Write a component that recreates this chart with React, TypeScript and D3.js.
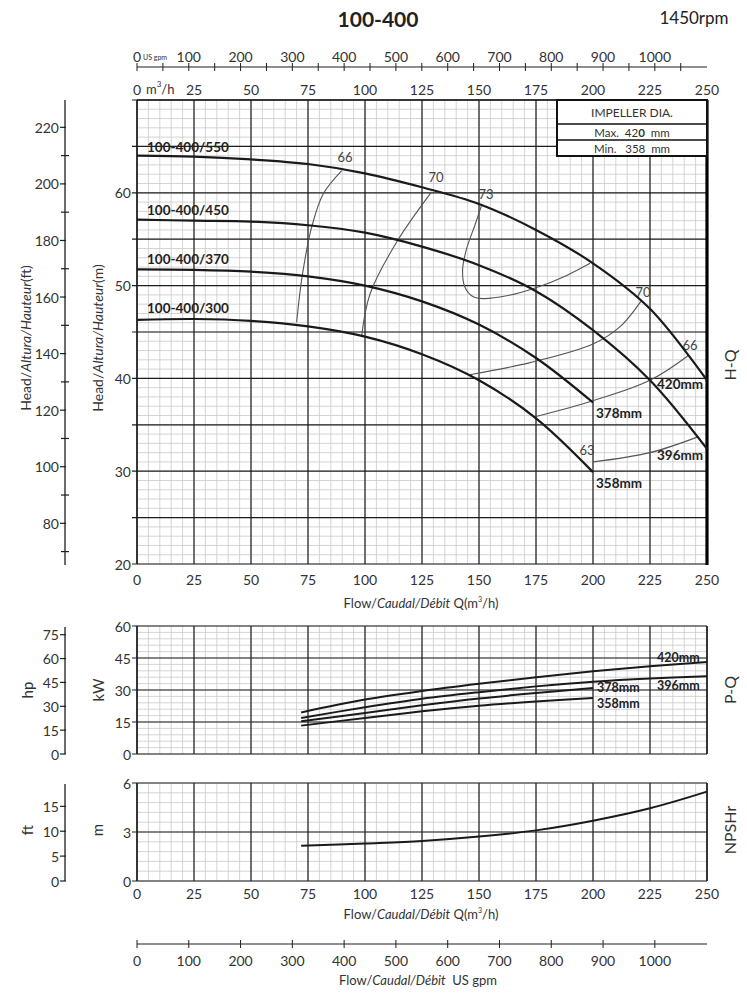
import React from 'react';
import * as d3 from 'd3';

// ---- data ----
const flowTicks = [0, 25, 50, 75, 100, 125, 150, 175, 200, 225, 250];
const gpmLabels = [0, 100, 200, 300, 400, 500, 600, 700, 800, 900, 1000];
const gpmMinor = [50, 150, 250, 350, 450, 550, 650, 750, 850, 950, 1050];
const headMLabels = [20, 30, 40, 50, 60];
const headFtLabels = [80, 100, 120, 140, 160, 180, 200, 220];
const headFtMinor = [70, 90, 110, 130, 150, 170, 190, 210];
const kwLabels = [0, 15, 30, 45, 60];
const hpLabels = [0, 15, 30, 45, 60, 75];
const npshMLabels = [0, 3, 6];
const npshFtLabels = [0, 5, 10, 15];

// H-Q (head in m)
const flowLong = [0, 25, 50, 75, 100, 125, 150, 175, 200, 225, 250];
const flowShort = [0, 25, 50, 75, 100, 125, 150, 175, 200];
const head420 = [64.0, 63.9, 63.6, 63.1, 62.1, 60.6, 58.8, 56.0, 52.4, 47.5, 39.8];
const head396 = [57.1, 57.0, 56.9, 56.5, 55.7, 54.2, 52.2, 49.4, 45.2, 39.8, 32.4];
const head378 = [51.75, 51.7, 51.5, 51.0, 50.0, 48.3, 45.8, 42.2, 37.4];
const head358 = [46.3, 46.4, 46.2, 45.6, 44.5, 42.6, 39.8, 35.7, 29.9];

// iso-efficiency lines [Q, H]
const eff66a: [number, number][] = [[70.0, 46.05], [72.5, 51.1], [76.6, 56.3], [81.7, 59.9], [89.8, 62.4]];
const eff70a: [number, number][] = [[98.5, 44.5], [102.2, 49.1], [113.9, 54.7], [129.2, 60.1]];
const eff73: [number, number][] = [
  [151.2, 58.7], [148.2, 56.5], [144.6, 54.0], [142.8, 51.7], [143.9, 49.8], [147.5, 48.8],
  [151.9, 48.6], [162.1, 48.9], [175.3, 49.8], [188.5, 51.1], [198.7, 52.4],
];
const eff70b: [number, number][] = [[146, 40.4], [172.4, 41.7], [200, 43.7], [212, 45.6], [221, 48.3]];
const eff66b: [number, number][] = [[175, 35.9], [200, 37.6], [225, 39.8], [242, 42.5]];
const eff63: [number, number][] = [[200, 31.0], [225, 32.0], [246, 33.7]];

// P-Q (kW)
const flowP = [72, 100, 125, 150, 175, 200, 225, 250];
const flowPShort = [72, 100, 125, 150, 175, 200];
const power420 = [19.5, 25.5, 29.5, 32.9, 36.0, 38.8, 41.1, 43.1];
const power396 = [16.9, 21.9, 25.9, 29.0, 31.7, 33.9, 35.4, 36.4];
const power378 = [15.3, 19.2, 22.8, 26.0, 28.6, 30.9];
const power358 = [13.3, 16.9, 20.0, 22.6, 24.6, 26.3];

// NPSHr (m)
const flowN = [72, 100, 125, 150, 175, 200, 225, 250];
const npsh = [2.16, 2.3, 2.45, 2.72, 3.1, 3.69, 4.45, 5.47];

const FONT = "Lato, 'Open Sans', sans-serif";
const TXT = '#333';
const MINOR = '#c9c9c9';
const MAJOR = '#1e1e1e';

const xQ = d3.scaleLinear().domain([0, 250]).range([137, 707]);
const xGpm = d3.scaleLinear().domain([0, 250 * 4.4029]).range([137, 707]);
const yHead = d3.scaleLinear().domain([20, 70]).range([564, 100]);
const yHeadFt = d3.scaleLinear().domain([20 * 3.28084, 70 * 3.28084]).range([564, 100]);
const yPow = d3.scaleLinear().domain([0, 60]).range([754, 626]);
const yHp = d3.scaleLinear().domain([0, 60 * 1.341]).range([754, 626]);
const yNpsh = d3.scaleLinear().domain([0, 6]).range([881, 783]);
const yNpshFt = d3.scaleLinear().domain([0, 6 * 3.28084]).range([881, 783]);

const zip = (xs: number[], ys: number[]) => xs.map((q, i) => [q, ys[i]] as [number, number]);

function Grid({ y, minorY, majorY }: { y: d3.ScaleLinear<number, number>; minorY: number[]; majorY: number[] }) {
  const [y0, y1] = y.range();
  const minorX = d3.range(0, 251, 5);
  return (
    <g>
      {minorX.map(v => (
        <line key={'mx' + v} x1={xQ(v)} x2={xQ(v)} y1={y0} y2={y1} stroke={MINOR} strokeWidth={0.8} />
      ))}
      {minorY.map(v => (
        <line key={'my' + v} x1={137} x2={707} y1={y(v)} y2={y(v)} stroke={MINOR} strokeWidth={0.8} />
      ))}
      {flowTicks.map(v => (
        <line key={'Mx' + v} x1={xQ(v)} x2={xQ(v)} y1={y0} y2={y1} stroke={MAJOR} strokeWidth={1.2} />
      ))}
      {majorY.map(v => (
        <line key={'My' + v} x1={132} x2={707} y1={y(v)} y2={y(v)} stroke={MAJOR} strokeWidth={1.2} />
      ))}
    </g>
  );
}

function FlowLabels({ yPos }: { yPos: number }) {
  return (
    <g fontSize={14} fill={TXT} textAnchor="middle" dominantBaseline="central">
      {flowTicks.map(v => (
        <text key={v} x={xQ(v)} y={yPos}>{v}</text>
      ))}
    </g>
  );
}

function FlowTitle({ yPos }: { yPos: number }) {
  return (
    <text x={421} y={yPos} fontSize={13} fill={TXT} textAnchor="middle" dominantBaseline="central">
      Flow/<tspan fontStyle="italic">Caudal/Débit</tspan> Q(m<tspan fontSize={7} dy={-4}>3</tspan><tspan dy={4}>/h)</tspan>
    </text>
  );
}

export default function App() {
  const smooth = d3.curveCatmullRom.alpha(0.5);
  const lineH = d3.line<[number, number]>().x(d => xQ(d[0])).y(d => yHead(d[1])).curve(smooth);
  const lineP = d3.line<[number, number]>().x(d => xQ(d[0])).y(d => yPow(d[1])).curve(smooth);
  const lineN = d3.line<[number, number]>().x(d => xQ(d[0])).y(d => yNpsh(d[1])).curve(smooth);

  const hqCurves = [zip(flowLong, head420), zip(flowLong, head396), zip(flowShort, head378), zip(flowShort, head358)];
  const effCurves = [eff66a, eff70a, eff73, eff70b, eff66b, eff63];
  const pCurves = [zip(flowP, power420), zip(flowP, power396), zip(flowPShort, power378), zip(flowPShort, power358)];

  return (
    <svg width={747} height={1000} style={{ position: 'absolute', left: 0, top: 0, background: '#fff' }} fontFamily={FONT}>
      <rect width={747} height={1000} fill="#fff" />

      {/* titles */}
      <text x={378} y={18} fontSize={21} fontWeight="bold" fill="#222" textAnchor="middle" dominantBaseline="central">100-400</text>
      <text x={694} y={17} fontSize={17} fill="#222" textAnchor="middle" dominantBaseline="central">1450rpm</text>

      {/* top US gpm axis */}
      <line x1={137} x2={707} y1={67} y2={67} stroke={MAJOR} strokeWidth={1.2} />
      {[...gpmLabels, ...gpmMinor].map(v => (
        <line key={'tg' + v} x1={xGpm(v)} x2={xGpm(v)} y1={63} y2={71} stroke={MAJOR} strokeWidth={1} />
      ))}
      <g fontSize={14} fill={TXT} textAnchor="middle" dominantBaseline="central">
        {gpmLabels.map(v => (
          <text key={'gl' + v} x={xGpm(v)} y={56}>{v}</text>
        ))}
      </g>
      <text x={143} y={57} fontSize={7} fill={TXT} dominantBaseline="central">US gpm</text>

      {/* top m3/h labels */}
      <g fontSize={14} fill={TXT} textAnchor="middle" dominantBaseline="central">
        {flowTicks.map(v => (
          <text key={'tm' + v} x={xQ(v)} y={89}>{v}</text>
        ))}
      </g>
      <text x={146} y={89} fontSize={13} fill={TXT} dominantBaseline="central">
        m<tspan fontSize={8} dy={-5}>3</tspan><tspan dy={5}>/h</tspan>
      </text>

      {/* ===== H-Q panel ===== */}
      <Grid y={yHead} minorY={d3.range(20, 71, 1)} majorY={d3.range(20, 71, 5)} />
      <line x1={137} x2={707} y1={100} y2={100} stroke={MAJOR} strokeWidth={1.4} />
      <line x1={137} x2={137} y1={100} y2={564} stroke={MAJOR} strokeWidth={1.4} />
      <line x1={707} x2={707} y1={100} y2={565} stroke="#000" strokeWidth={3.2} />

      <g fontSize={14} fill={TXT} textAnchor="end" dominantBaseline="central">
        {headMLabels.map(v => (
          <text key={'hm' + v} x={131} y={yHead(v)}>{v}</text>
        ))}
      </g>
      <FlowLabels yPos={579} />
      <FlowTitle yPos={603} />

      {/* ft axis */}
      <line x1={65} x2={65} y1={100} y2={565} stroke={MAJOR} strokeWidth={1.3} />
      {headFtLabels.map(v => (
        <line key={'ft' + v} x1={60} x2={66} y1={yHeadFt(v)} y2={yHeadFt(v)} stroke={MAJOR} strokeWidth={1.2} />
      ))}
      {headFtMinor.map(v => (
        <line key={'ftm' + v} x1={61} x2={69} y1={yHeadFt(v)} y2={yHeadFt(v)} stroke={MAJOR} strokeWidth={1.2} />
      ))}
      <g fontSize={14} fill={TXT} textAnchor="end" dominantBaseline="central">
        {headFtLabels.map(v => (
          <text key={'ftl' + v} x={59} y={yHeadFt(v)}>{v}</text>
        ))}
      </g>
      <text transform="translate(25,338) rotate(-90)" fontSize={14} fill={TXT} textAnchor="middle" dominantBaseline="central">
        Head/<tspan fontStyle="italic">Altura/Hauteur</tspan>(ft)
      </text>
      <text transform="translate(97,338) rotate(-90)" fontSize={14} fill={TXT} textAnchor="middle" dominantBaseline="central">
        Head/<tspan fontStyle="italic">Altura/Hauteur</tspan>(m)
      </text>

      {/* efficiency lines */}
      {effCurves.map((c, i) => (
        <path key={'e' + i} d={lineH(c) ?? ''} fill="none" stroke="#555" strokeWidth={1.1} />
      ))}
      <g fontSize={13} fill="#444" textAnchor="middle" dominantBaseline="central">
        <text x={345} y={157}>66</text>
        <text x={436} y={177}>70</text>
        <text x={486} y={194}>73</text>
        <text x={643} y={292}>70</text>
        <text x={690} y={345}>66</text>
        <text x={587} y={450}>63</text>
      </g>

      {/* H-Q curves */}
      {hqCurves.map((c, i) => (
        <path key={'h' + i} d={lineH(c) ?? ''} fill="none" stroke="#1a1a1a" strokeWidth={2.2} />
      ))}
      <g fontSize={13.5} fontWeight="bold" fill="#222" dominantBaseline="central">
        <text x={147} y={147}>100-400/550</text>
        <text x={147} y={210}>100-400/450</text>
        <text x={147} y={259}>100-400/370</text>
        <text x={147} y={308}>100-400/300</text>
        <text x={657} y={384}>420mm</text>
        <text x={596} y={413}>378mm</text>
        <text x={657} y={455}>396mm</text>
        <text x={596} y={483}>358mm</text>
      </g>

      {/* impeller box */}
      <rect x={557} y={100} width={150} height={56} fill="#fff" stroke="#111" strokeWidth={2} />
      <line x1={557} x2={707} y1={124} y2={124} stroke="#111" strokeWidth={1.5} />
      <line x1={557} x2={707} y1={140} y2={140} stroke="#111" strokeWidth={1.5} />
      <g fontSize={12} fill="#333" textAnchor="middle" dominantBaseline="central">
        <text x={632} y={112}>IMPELLER DIA.</text>
        <text x={632} y={132} fontSize={11.5} style={{ whiteSpace: 'pre' }}>Max.  42<tspan fontWeight="bold">0</tspan>  mm</text>
        <text x={632} y={148} fontSize={11.5} style={{ whiteSpace: 'pre' }}>Min.   358  mm</text>
      </g>
      <text transform="translate(729,365) rotate(-90)" fontSize={16} fill={TXT} textAnchor="middle" dominantBaseline="central">H-Q</text>

      {/* ===== P-Q panel ===== */}
      <Grid y={yPow} minorY={d3.range(0, 61, 3)} majorY={kwLabels} />
      <line x1={137} x2={137} y1={626} y2={754} stroke={MAJOR} strokeWidth={1.4} />
      <line x1={707} x2={707} y1={626} y2={754} stroke={MAJOR} strokeWidth={1.4} />
      <g fontSize={14} fill={TXT} textAnchor="end" dominantBaseline="central">
        {kwLabels.map(v => (
          <text key={'kw' + v} x={131} y={yPow(v)}>{v}</text>
        ))}
      </g>
      <line x1={65} x2={65} y1={627} y2={754} stroke={MAJOR} strokeWidth={1.3} />
      {hpLabels.map(v => (
        <line key={'hpt' + v} x1={60} x2={66} y1={yHp(v)} y2={yHp(v)} stroke={MAJOR} strokeWidth={1.2} />
      ))}
      <g fontSize={14} fill={TXT} textAnchor="end" dominantBaseline="central">
        {hpLabels.map(v => (
          <text key={'hp' + v} x={59} y={yHp(v)}>{v}</text>
        ))}
      </g>
      <text transform="translate(27,690) rotate(-90)" fontSize={15} fill={TXT} textAnchor="middle" dominantBaseline="central">hp</text>
      <text transform="translate(98,690) rotate(-90)" fontSize={15} fill={TXT} textAnchor="middle" dominantBaseline="central">kW</text>
      {pCurves.map((c, i) => (
        <path key={'p' + i} d={lineP(c) ?? ''} fill="none" stroke="#1a1a1a" strokeWidth={2} />
      ))}
      <g fontSize={12.5} fontWeight="bold" fill="#222" dominantBaseline="central">
        <text x={657} y={657}>420mm</text>
        <text x={657} y={685}>396mm</text>
        <text x={597} y={687}>378mm</text>
        <text x={597} y={703}>358mm</text>
      </g>
      <text transform="translate(729,690) rotate(-90)" fontSize={16} fill={TXT} textAnchor="middle" dominantBaseline="central">P-Q</text>

      {/* ===== NPSHr panel ===== */}
      <Grid y={yNpsh} minorY={d3.range(0, 6.01, 0.6)} majorY={npshMLabels} />
      <line x1={137} x2={137} y1={783} y2={881} stroke={MAJOR} strokeWidth={1.4} />
      <line x1={707} x2={707} y1={783} y2={881} stroke={MAJOR} strokeWidth={1.4} />
      <g fontSize={14} fill={TXT} textAnchor="end" dominantBaseline="central">
        {npshMLabels.map(v => (
          <text key={'nm' + v} x={131} y={yNpsh(v)}>{v}</text>
        ))}
      </g>
      <line x1={65} x2={65} y1={784} y2={881} stroke={MAJOR} strokeWidth={1.3} />
      {npshFtLabels.map(v => (
        <line key={'nft' + v} x1={60} x2={66} y1={yNpshFt(v)} y2={yNpshFt(v)} stroke={MAJOR} strokeWidth={1.2} />
      ))}
      <g fontSize={14} fill={TXT} textAnchor="end" dominantBaseline="central">
        {npshFtLabels.map(v => (
          <text key={'nfl' + v} x={59} y={yNpshFt(v)}>{v}</text>
        ))}
      </g>
      <text transform="translate(27,830) rotate(-90)" fontSize={15} fill={TXT} textAnchor="middle" dominantBaseline="central">ft</text>
      <text transform="translate(97,830) rotate(-90)" fontSize={15} fill={TXT} textAnchor="middle" dominantBaseline="central">m</text>
      <path d={lineN(zip(flowN, npsh)) ?? ''} fill="none" stroke="#1a1a1a" strokeWidth={2} />
      <text transform="translate(729,830) rotate(-90)" fontSize={16} fill={TXT} textAnchor="middle" dominantBaseline="central">NPSHr</text>
      <FlowLabels yPos={893} />
      <FlowTitle yPos={914} />

      {/* bottom US gpm axis */}
      <line x1={137} x2={707} y1={944} y2={944} stroke={MAJOR} strokeWidth={1.2} />
      {gpmLabels.map(v => (
        <line key={'bg' + v} x1={xGpm(v)} x2={xGpm(v)} y1={940} y2={948} stroke={MAJOR} strokeWidth={1} />
      ))}
      <g fontSize={14} fill={TXT} textAnchor="middle" dominantBaseline="central">
        {gpmLabels.map(v => (
          <text key={'bgl' + v} x={xGpm(v)} y={960}>{v}</text>
        ))}
      </g>
      <text x={418} y={980} fontSize={13} fill={TXT} textAnchor="middle" dominantBaseline="central" style={{ whiteSpace: 'pre' }}>
        Flow/<tspan fontStyle="italic">Caudal/Débit</tspan>{'  '}US gpm
      </text>
    </svg>
  );
}
